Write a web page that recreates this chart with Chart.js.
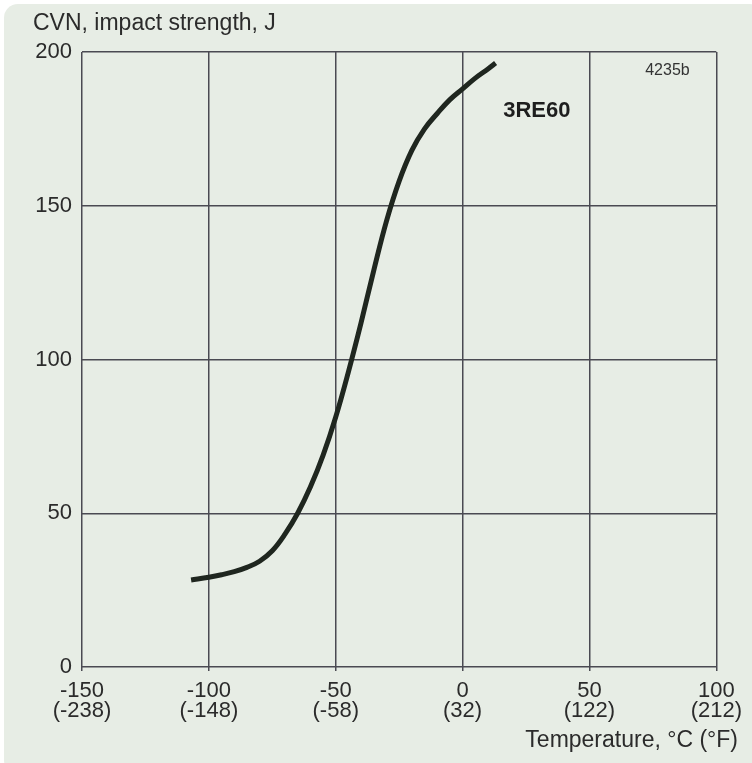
<!DOCTYPE html>
<html>
<head>
<meta charset="utf-8">
<script src="https://cdn.jsdelivr.net/npm/chart.js@4.4.1/dist/chart.umd.min.js"></script>
<style>
  html, body { margin: 0; padding: 0; background: #ffffff; }
  #wrap { width: 752px; height: 763px; position: relative; }
</style>
</head>
<body>
<div id="wrap"><canvas id="c" width="752" height="763"></canvas></div>
<script>
// Data
const temperatureC = [-107, -100, -95, -90, -85, -80, -75, -70, -65, -60, -55, -50, -45, -40, -35, -30, -25, -20, -15, -10, -5, 0, 5, 10, 13];
const impactJ      = [28.3, 29.2, 30.0, 31.0, 32.4, 34.4, 37.8, 43.2, 50.0, 58.5, 68.8, 81.3, 96, 112, 129, 145, 158, 168, 175, 180, 184.5, 188, 191.5, 194.5, 196.4];
const xTicksC = [-150, -100, -50, 0, 50, 100];
const xTicksF = ['(-238)', '(-148)', '(-58)', '(32)', '(122)', '(212)'];
const yTicks  = [0, 50, 100, 150, 200];
const seriesLabel = '3RE60';
const figureCode = '4235b';
const yTitle = 'CVN, impact strength, J';
const xTitle = 'Temperature, \u00b0C (\u00b0F)';

const points = temperatureC.map((t, i) => ({ x: t, y: impactJ[i] }));
const FONT = '"Liberation Sans", Arial, Helvetica, sans-serif';
const gridColor = '#4a4a52';
const textColor = '#2b2b2b';

const bgPlugin = {
  id: 'bg',
  beforeDraw(chart) {
    const ctx = chart.ctx;
    ctx.save();
    ctx.fillStyle = '#e7ede5';
    ctx.beginPath();
    if (ctx.roundRect) ctx.roundRect(4, 4, 760, 770, 14); else ctx.rect(4, 4, 760, 770);
    ctx.fill();
    ctx.restore();
  }
};

const textPlugin = {
  id: 'texts',
  afterDraw(chart) {
    const ctx = chart.ctx;
    const xs = chart.scales.x, ys = chart.scales.y;
    ctx.save();
    ctx.fillStyle = textColor;
    ctx.textBaseline = 'alphabetic';
    ctx.font = '23px ' + FONT;
    ctx.textAlign = 'left';
    ctx.fillText(yTitle, 33, 30);
    ctx.textAlign = 'right';
    ctx.fillText(xTitle, 738, 747);
    // in-plot labels positioned through the scales
    ctx.font = 'bold 22px ' + FONT;
    ctx.textAlign = 'left';
    ctx.fillStyle = '#1e1e1e';
    ctx.fillText(seriesLabel, xs.getPixelForValue(16), ys.getPixelForValue(179));
    ctx.font = '16px ' + FONT;
    ctx.textAlign = 'right';
    ctx.fillStyle = '#333';
    ctx.fillText(figureCode, xs.getPixelForValue(89.5), ys.getPixelForValue(192.5));
    ctx.restore();
  }
};

new Chart(document.getElementById('c'), {
  type: 'line',
  data: {
    datasets: [{
      label: seriesLabel,
      data: points,
      borderColor: '#1f261f',
      borderWidth: 5,
      pointRadius: 0,
      fill: false,
      tension: 0.4,
      borderCapStyle: 'butt'
    }]
  },
  options: {
    responsive: false,
    animation: false,
    events: [],
    layout: { padding: { left: 0, top: 52, right: 33, bottom: 0 } },
    plugins: { legend: { display: false }, tooltip: { enabled: false } },
    scales: {
      x: {
        type: 'linear',
        min: xTicksC[0],
        max: xTicksC[xTicksC.length - 1],
        afterBuildTicks(scale) { scale.ticks = xTicksC.map(v => ({ value: v })); },
        afterFit(scale) { scale.height = 96; },
        grid: { color: gridColor, lineWidth: 1.5, drawTicks: true, tickLength: 4, tickColor: gridColor },
        border: { display: false },
        ticks: {
          color: textColor,
          font: { family: FONT, size: 22, lineHeight: 0.9 },
          padding: 10,
          maxRotation: 0,
          autoSkip: false,
          callback(v) {
            const i = xTicksC.indexOf(v);
            return i < 0 ? '' : [String(v), xTicksF[i]];
          }
        }
      },
      y: {
        type: 'linear',
        min: yTicks[0],
        max: yTicks[yTicks.length - 1],
        afterBuildTicks(scale) { scale.ticks = yTicks.map(v => ({ value: v })); },
        afterFit(scale) { scale.width = 82; },
        grid: { color: gridColor, lineWidth: 1.5, drawTicks: false },
        border: { display: false },
        ticks: {
          color: textColor,
          font: { family: FONT, size: 22 },
          padding: 10
        }
      }
    }
  },
  plugins: [bgPlugin, textPlugin]
});
</script>
</body>
</html>
